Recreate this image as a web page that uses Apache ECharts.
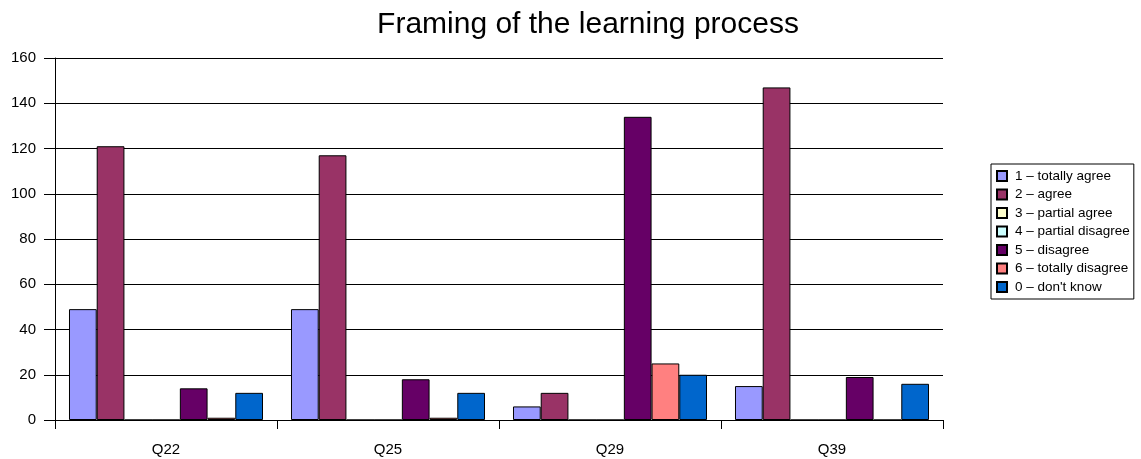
<!DOCTYPE html>
<html><head><meta charset="utf-8">
<script src="https://cdn.jsdelivr.net/npm/echarts@6/dist/echarts.min.js"></script>
<style>html,body{margin:0;padding:0;background:#fff}#c{width:1141px;height:459px}</style>
</head><body><div id="c"></div>
<script>
const categories = ['Q22','Q25','Q29','Q39'];
const seriesNames = ['1 – totally agree','2 – agree','3 – partial agree','4 – partial disagree','5 – disagree','6 – totally disagree',"0 – don't know"];
const totallyAgree = [49, 49, 6, 15];
const agree = [121, 117, 12, 147];
const partialAgree = [0, 0, 0, 0];
const partialDisagree = [0, 0, 0, 0];
const disagree = [14, 18, 134, 19];
const totallyDisagree = [1, 1, 25, 0];
const dontKnow = [12, 12, 20, 16];
const colors = ['#9999FF','#993366','#FFFFCC','#CCFFFF','#660066','#FF8080','#0066CC'];
const allData = [totallyAgree, agree, partialAgree, partialDisagree, disagree, totallyDisagree, dontKnow];

const chart = echarts.init(document.getElementById('c'));
chart.setOption({
  animation: false,
  title: {text: 'Framing of the learning process', left: 583, top: 5, textAlign: 'center',
    textStyle: {fontFamily: 'Liberation Sans', fontWeight: 'normal', fontSize: 30, color: '#000'}},
  legend: {orient: 'vertical', left: 991, top: 164, itemWidth: 10, itemHeight: 10, itemGap: 4.5,
    padding: [5, 4, 5, 5], borderColor: '#000', borderWidth: 1,
    textStyle: {fontFamily: 'Liberation Sans', fontSize: 13.5, color: '#000', padding: [0,0,0,3]},
    data: seriesNames.map(n => ({name: n, icon: 'rect'}))},
  grid: {left: 55, right: 198, top: 58, bottom: 39, containLabel: false},
  xAxis: {type: 'category', data: categories,
    axisLine: {lineStyle: {color: '#000'}},
    axisTick: {show: true, length: 9, lineStyle: {color: '#000'}},
    axisLabel: {fontFamily: 'Liberation Sans', fontSize: 15, color: '#000', margin: 22}},
  yAxis: {type: 'value', min: 0, max: 160, interval: 20,
    axisLine: {show: true, lineStyle: {color: '#000'}},
    axisTick: {show: true, length: 11, lineStyle: {color: '#000'}},
    splitLine: {lineStyle: {color: '#000'}},
    axisLabel: {fontFamily: 'Liberation Sans', fontSize: 15, color: '#000', margin: 19}},
  series: seriesNames.map((n, i) => ({
    name: n, type: 'bar', data: allData[i], barGap: '0%', barCategoryGap: '12.6%',
    itemStyle: {color: colors[i], borderColor: '#000', borderWidth: 1}
  }))
});
</script></body></html>
